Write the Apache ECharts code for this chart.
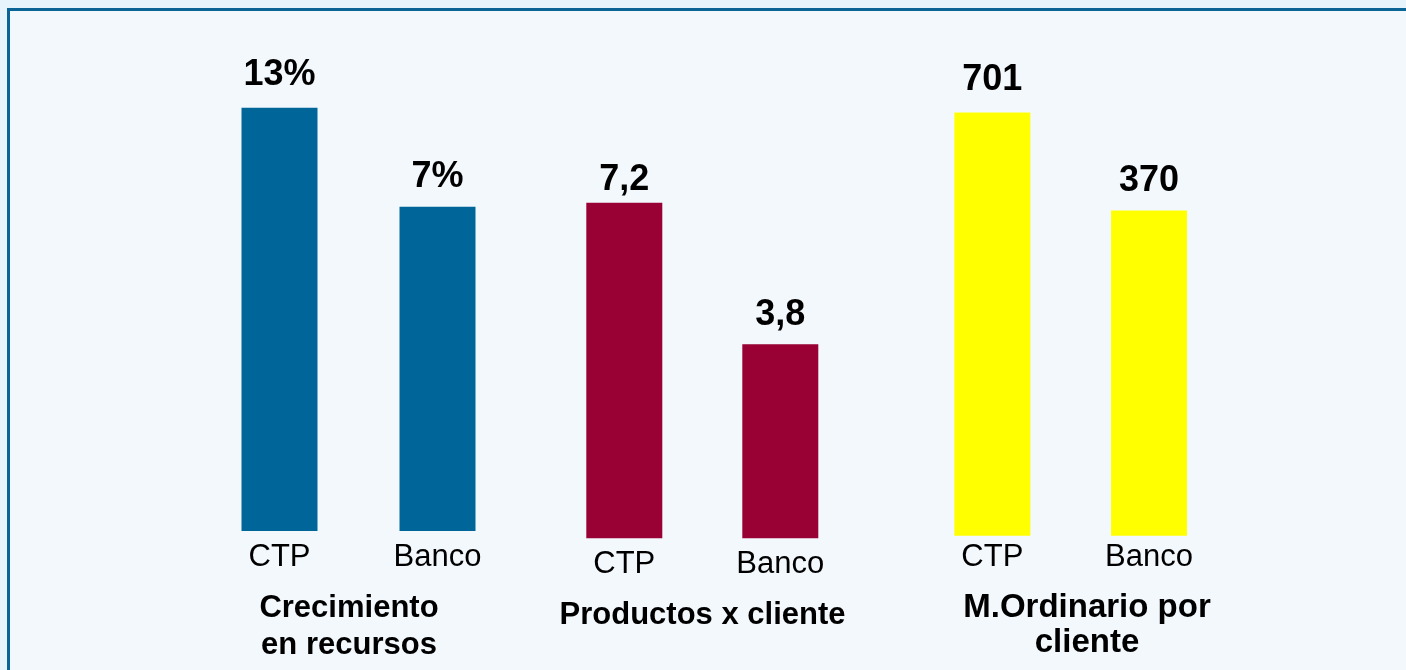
<!DOCTYPE html>
<html>
<head>
<meta charset="utf-8">
<script src="https://cdn.jsdelivr.net/npm/echarts@6/dist/echarts.min.js"></script>
<style>
  html, body { margin: 0; padding: 0; background: #e8f4fc; }
  #box { width: 1406px; height: 670px; }
</style>
</head>
<body>
<div id="box"></div>
<script>
// datos
var categorias = ['CTP', 'Banco'];
var crecimiento = [13, 7];
var productos = [7.2, 3.8];
var margen = [701, 370];
var titulos = ['Crecimiento\nen recursos', 'Productos x cliente', 'M.Ordinario por\ncliente'];

// estilos / posiciones
var colores = ['#006699', '#990033', '#ffff00'];
var grids = [
    { left: 200.5, width: 316, top: 58.3, height: 472.7 },
    { left: 546.3, width: 312, top: 169.4, height: 368.8 },
    { left: 914, width: 313.4, top: 83.3, height: 452.4 }
];
var ejes = [
    { min: -12.65, max: 16 },
    { min: -0.855, max: 8 },
    { min: -728, max: 800 }
];
var margenEtiqueta = [11, 11, 6];
var distancias = [[14.6, 11.6], [5, 11], [14.6, 12]];
var formatos = [
    function(p) { return p.value + '%'; },
    function(p) { return String(p.value).replace('.', ','); },
    function(p) { return p.value; }
];
var series = [crecimiento, productos, margen];

var fuente = '"Liberation Sans", Arial, sans-serif';

var myChart = echarts.init(document.getElementById('box'));
var option = {
    backgroundColor: '#e8f4fc',
    animation: false,
    grid: grids.map(function(g) {
        return { left: g.left, width: g.width, top: g.top, height: g.height, containLabel: false };
    }),
    xAxis: grids.map(function(g, i) {
        return {
            type: 'category',
            gridIndex: i,
            data: categorias,
            axisLine: { show: false },
            axisTick: { show: false },
            axisLabel: {
                margin: margenEtiqueta[i],
                color: '#000',
                fontFamily: fuente,
                fontSize: 31,
                lineHeight: 31
            }
        };
    }),
    yAxis: grids.map(function(g, i) {
        return {
            type: 'value',
            gridIndex: i,
            min: ejes[i].min,
            max: ejes[i].max,
            startValue: ejes[i].min,
            show: false,
            splitLine: { show: false }
        };
    }),
    graphic: [{
        type: 'rect',
        z: -10,
        shape: { x: 8.5, y: 9.5, width: 1420, height: 700 },
        style: { fill: '#f3f8fc', stroke: '#0a6496', lineWidth: 3 }
    }, {
        type: 'text',
        x: 349, y: 589.5,
        style: {
            text: titulos[0], textAlign: 'center', verticalAlign: 'top',
            font: 'bold 31px ' + fuente, lineHeight: 37, fill: '#000'
        }
    }, {
        type: 'text',
        x: 702.5, y: 597,
        style: {
            text: titulos[1], textAlign: 'center', verticalAlign: 'top',
            font: 'bold 31px ' + fuente, lineHeight: 37, fill: '#000'
        }
    }, {
        type: 'text',
        x: 1087, y: 590,
        style: {
            text: titulos[2], textAlign: 'center', verticalAlign: 'top',
            font: 'bold 33px ' + fuente, lineHeight: 35, fill: '#000'
        }
    }],
    series: series.map(function(vals, i) {
        return {
            type: 'bar',
            xAxisIndex: i,
            yAxisIndex: i,
            barWidth: 76,
            itemStyle: { color: colores[i] },
            label: {
                show: true,
                position: 'top',
                formatter: formatos[i],
                color: '#000',
                fontFamily: fuente,
                fontWeight: 'bold',
                fontSize: 36,
                lineHeight: 36
            },
            data: vals.map(function(v, j) {
                return { value: v, label: { distance: distancias[i][j] } };
            })
        };
    })
};
myChart.setOption(option);
</script>
</body>
</html>
